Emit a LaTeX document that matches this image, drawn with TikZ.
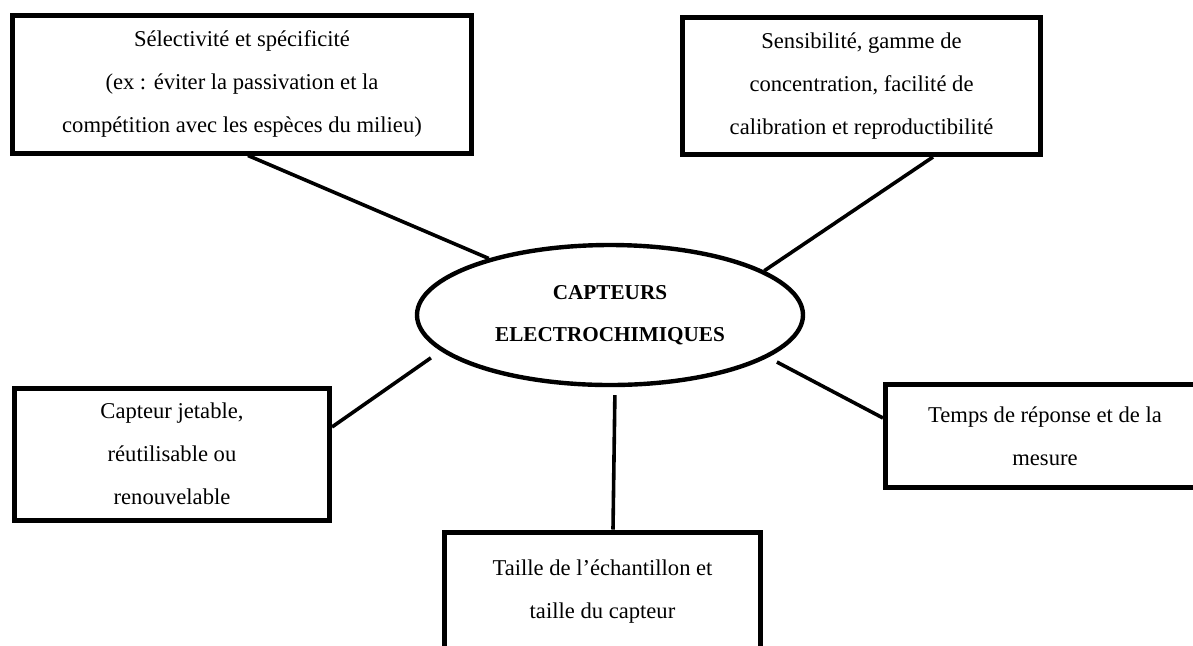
\documentclass[tikz,border=0pt]{standalone}
\usepackage{fontspec}
\setmainfont{Liberation Serif}
\usetikzlibrary{shapes.geometric}

\begin{document}
\begin{tikzpicture}[x=0.5pt,y=0.5pt,
    box/.style={draw,line width=2.5pt,align=center,inner sep=0pt,font=\fontsize{11.3}{21.5}\selectfont},
    link/.style={line width=1.8pt}]
      \useasboundingbox (-610,315) rectangle (583,-330);
      \clip (-610,315) rectangle (583,-330);
      \node[ellipse,draw,line width=2.2pt,minimum width=193pt,minimum height=70pt,inner sep=0pt,align=center,font=\bfseries\fontsize{10.6}{21}\selectfont] (0) {CAPTEURS\\ELECTROCHIMIQUES};
      \node[box,minimum width=229.5pt,minimum height=69pt] (1) at (-368,231) {Sélectivité et spécificité\\(ex : éviter la passivation et la\\compétition avec les espèces du milieu)};
      \node[box,minimum width=179pt,minimum height=68.5pt] (2) at (251.5,229) {Sensibilité, gamme de\\concentration, facilité de\\calibration et reproductibilité};
      \node[box,minimum width=157.5pt,minimum height=66pt] (3) at (-438,-139) {Capteur jetable,\\réutilisable ou\\renouvelable};
      \node[box,minimum width=159.5pt,minimum height=51.5pt] (4) at (435,-121) {Temps de réponse et de la\\mesure};
      \node[box,minimum width=158pt,minimum height=60pt] (5) at (-7.5,-277) {Taille de l’échantillon et\\taille du capteur};

      \draw[link] ([xshift=3pt]1.south) -- (0.155);
      \draw[link] ([xshift=35.75pt]2.south) -- (0.16.5);
      \draw[link,shorten >=6pt] ([yshift=13.5pt]3.east) -- (0.192);
      \draw[link,shorten <=5pt] (0.345) -- ([yshift=9pt]4.west);
      \draw[link,shorten <=4pt] ([xshift=2.5pt]0.south) -- ([xshift=5.25pt]5.north);
    \end{tikzpicture}
\end{document}
